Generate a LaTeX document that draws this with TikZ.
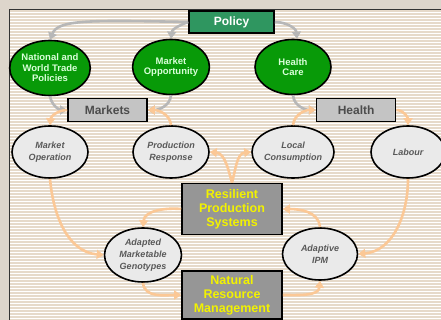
\documentclass[tikz,border=0pt]{standalone}
\usepackage{fontspec}
\setmainfont{Liberation Sans}
\usetikzlibrary{shapes.geometric}
\usetikzlibrary{arrows.meta}
\usetikzlibrary{positioning}
\definecolor{frame}{HTML}{DDD5CB}
\definecolor{stripe}{HTML}{E6DACA}
\definecolor{policygreen}{HTML}{2F9660}
\definecolor{leafgreen}{HTML}{089A08}
\definecolor{ellgrey}{HTML}{EAEAEA}
\definecolor{hubgrey}{HTML}{C4C4C4}
\definecolor{coregrey}{HTML}{969696}
\definecolor{coreyellow}{HTML}{F2F200}
\definecolor{pale}{HTML}{B7B7B7}
\definecolor{peach}{HTML}{FBC896}
\newcommand{\lbl}[2]{\fontsize{#1}{#2}\selectfont\bfseries}

\begin{document}
\begin{tikzpicture}[x=1pt,y=-1pt,
    greenell/.style={ellipse, draw=black, line width=1.6pt, fill=leafgreen, text=green!15!white,
      minimum width=76pt, minimum height=55pt, inner sep=0pt, align=center, font=\lbl{9.5}{10.5}},
    greyell/.style={ellipse, draw=black, line width=1.6pt, fill=ellgrey, text=black!65,
      minimum width=76pt, minimum height=52pt, inner sep=0pt, align=center, font=\lbl{9}{12}\itshape},
    hub/.style={rectangle, draw=black, line width=1.6pt, fill=hubgrey, text=black!70,
      minimum width=79pt, minimum height=23pt, inner sep=0pt, font=\lbl{12}{12}},
    core/.style={rectangle, draw=black, line width=1.6pt, fill=coregrey, text=coreyellow,
      minimum width=100pt, minimum height=51pt, inner sep=0pt, align=center, font=\lbl{12.5}{14}},
    pol/.style={-{Triangle[length=7pt,width=9pt]}, line width=2.6pt, draw=pale},
    feed/.style={-{Triangle[length=7pt,width=9pt]}, line width=2.6pt, draw=peach}]
  \useasboundingbox (0,0) rectangle (441,320);%
  % striped panel
  \fill[frame] (0,0) rectangle (441,320);%
  \fill[white] (9,9) rectangle (445,325);%
  \foreach \y in {11,14,...,320}
    \draw[stripe, line width=1.5pt] (9,\y) -- (445,\y);%
  \draw[black!80, line width=0.8pt] (9,325) -- (9,9) -- (445,9);%
  % top level
  \node[rectangle, draw=black, line width=1.6pt, fill=policygreen, text=white, inner sep=0pt,
    minimum width=85pt, minimum height=22pt, font=\lbl{12}{12}] (policy) at (231.5,22) {Policy};%
  \node[greenell] (nwtp) at (50,68) {National and\\World Trade\\Policies};%
  \node[greenell] (mopp) at (171,67) {Market\\Opportunity};%
  \node[greenell] (hcare) at (293,67) {Health\\Care};%
  \node[hub] (markets) at (107.5,110) {Markets};%
  \node[hub, right=168pt of markets] (health) {Health};%
  % second row
  \node[greyell] (mop) at (50,152) {Market\\Operation};%
  \node[greyell] (prod) at (171,152) {Production\\Response};%
  \node[greyell] (locc) at (293,152) {Local\\Consumption};%
  \node[greyell, minimum width=74pt] (labour) at (408,152) {Labour};%
  % core
  \node[core] (rps) at (232,209) {Resilient\\Production\\Systems};%
  \node[core, minimum height=48pt] (nrm) at (232,295) {Natural\\Resource\\Management};%
  \node[greyell, minimum width=77pt, minimum height=54pt] (adapted) at (143,255) {Adapted\\Marketable\\Genotypes};%
  \node[greyell, minimum width=75pt] (adaptive) at (320,254) {Adaptive\\IPM};%
  % policy links
  \draw[pol] (policy.west) .. controls +(-100,-2) and +(8,-20) .. (nwtp.north);%
  \draw[pol] (policy.west) to[out=200,in=85] (mopp.north);%
  \draw[pol] (policy.east) to[out=0,in=95] ([xshift=4pt]hcare.north);%
  \draw[pol] (nwtp.south) to[out=-80,in=180] (markets.west);%
  \draw[pol] (mopp.south) to[out=-95,in=0] (markets.east);%
  \draw[pol] (hcare.south) to[out=-85,in=180] (health.west);%
  % feedback links
  \draw[feed] (markets.west) to[out=180,in=85] (mop.north);%
  \draw[feed] (prod.north) to[out=95,in=0] (markets.east);%
  \draw[feed] (locc.north) to[out=85,in=180] (health.west);%
  \draw[feed] (health.east) to[out=0,in=90] (labour.north);%
  \draw[feed] (rps.north) to[out=105,in=-5] (prod.east);%
  \draw[feed] (rps.north) to[out=75,in=185] (locc.west);%
  \draw[feed] (mop.south) to[out=-85,in=175] (adapted.west);%
  \draw[feed] (rps.west) to[out=175,in=85] (adapted.north);%
  \draw[feed] (adaptive.north) to[out=95,in=0] (rps.east);%
  \draw[feed] (labour.south) to[out=-90,in=5] (adaptive.east);%
  \draw[feed] (adapted.south) to[out=-85,in=180] (nrm.west);%
  \draw[feed] (nrm.east) to[out=0,in=-95] (adaptive.south);%
\end{tikzpicture}
\end{document}
